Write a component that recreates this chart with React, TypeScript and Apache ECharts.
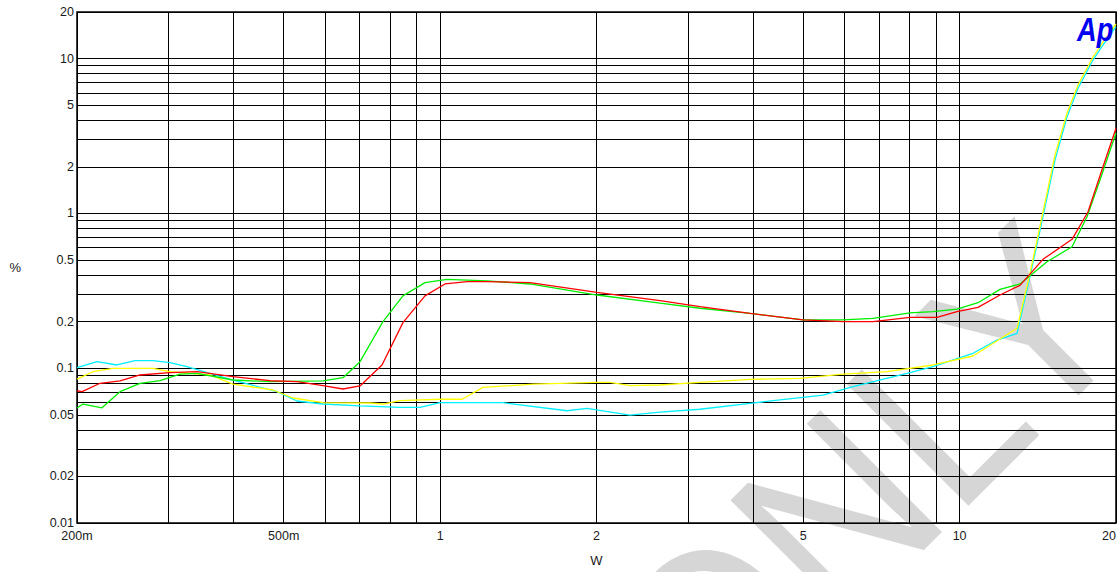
import React, { useEffect, useRef } from 'react';
import * as echarts from 'echarts';

// Grid lines (log decades) and tick labels
const xGridValues = [0.2, 0.3, 0.4, 0.5, 0.6, 0.7, 0.8, 0.9, 1, 2, 3, 4, 5, 6, 7, 8, 9, 10, 20];
const yGridValues = [
  0.01, 0.02, 0.03, 0.04, 0.05, 0.06, 0.07, 0.08, 0.09,
  0.1, 0.2, 0.3, 0.4, 0.5, 0.6, 0.7, 0.8, 0.9,
  1, 2, 3, 4, 5, 6, 7, 8, 9, 10, 20,
];
const xTickValues = [0.2, 0.5, 1, 2, 5, 10, 20];
const xTickLabels = ['200m', '500m', '1', '2', '5', '10', '20'];
const yTickValues = [0.01, 0.02, 0.05, 0.1, 0.2, 0.5, 1, 2, 5, 10, 20];
const yTickLabels = ['0.01', '0.02', '0.05', '0.1', '0.2', '0.5', '1', '2', '5', '10', '20'];

// Series: cyan
const cyanX = [0.2, 0.2185, 0.2388, 0.2586, 0.2801, 0.302, 0.3256, 0.3993, 0.4853, 0.5303, 0.5951, 0.7011, 0.837, 0.9148, 0.9993, 1.3214, 1.7552, 1.9176, 2.3206, 2.6506, 3.1636, 3.95, 5.458, 6.235, 7.918, 8.888, 10.61, 11.8, 12.9, 13.66, 14.47, 15.26, 16.1, 16.9, 18.06, 18.88, 20];
const cyanY = [0.1008, 0.1102, 0.1049, 0.1118, 0.1118, 0.1085, 0.1023, 0.0839, 0.0705, 0.0614, 0.0587, 0.0571, 0.0559, 0.0559, 0.0599, 0.0599, 0.0531, 0.055, 0.0498, 0.0521, 0.0543, 0.0593, 0.0671, 0.076, 0.0927, 0.1023, 0.1248, 0.152, 0.168, 0.39, 0.952, 2.21, 4.21, 6.43, 9.79, 12.24, 16.07];

// Series: yellow
const yellowX = [0.2, 0.2147, 0.2346, 0.2563, 0.2801, 0.302, 0.3606, 0.3993, 0.4769, 0.521, 0.5951, 0.7329, 0.7763, 0.837, 0.9993, 1.1021, 1.2092, 1.5094, 2.0046, 2.1234, 2.3206, 2.6506, 3.1636, 3.95, 4.93, 5.964, 7.248, 8.888, 10.61, 12.9, 13.66, 14.47, 15.26, 16.1, 16.9, 18.06, 18.88, 20];
const yellowY = [0.0851, 0.0949, 0.0998, 0.0998, 0.0998, 0.0949, 0.0904, 0.079, 0.0723, 0.0642, 0.0599, 0.0596, 0.0587, 0.0617, 0.063, 0.063, 0.0752, 0.0788, 0.0811, 0.0811, 0.0771, 0.0779, 0.0811, 0.0848, 0.086, 0.0917, 0.0949, 0.1049, 0.1199, 0.181, 0.41, 1.02, 2.38, 4.45, 6.75, 10.24, 12.8, 16.73];

// Series: green
const greenX = [0.2, 0.2054, 0.2234, 0.242, 0.2644, 0.2889, 0.3157, 0.3404, 0.3993, 0.4705, 0.5951, 0.6502, 0.7011, 0.7763, 0.8481, 0.9352, 1.0307, 1.2308, 1.4895, 2.0046, 2.6506, 3.1636, 3.95, 4.996, 5.964, 6.811, 8.025, 8.888, 9.884, 10.85, 11.96, 13.07, 14.73, 16.46, 17.59, 18.63, 20];
const greenY = [0.0553, 0.0587, 0.0555, 0.0705, 0.0799, 0.083, 0.0917, 0.0927, 0.0839, 0.0818, 0.0827, 0.0868, 0.1102, 0.1998, 0.293, 0.357, 0.375, 0.367, 0.35, 0.297, 0.263, 0.244, 0.226, 0.205, 0.205, 0.21, 0.228, 0.232, 0.241, 0.265, 0.323, 0.35, 0.487, 0.609, 0.952, 1.643, 3.31];

// Series: red
const redX = [0.2, 0.2045, 0.2215, 0.242, 0.2644, 0.302, 0.3404, 0.3993, 0.4705, 0.5303, 0.5951, 0.6502, 0.7011, 0.7729, 0.8481, 0.9352, 1.0217, 1.1267, 1.2308, 1.4895, 2.0046, 2.6506, 3.1636, 3.95, 4.996, 5.964, 6.811, 8.025, 9.047, 9.884, 10.85, 11.96, 13.07, 14.47, 16.46, 17.67, 18.88, 20];
const redY = [0.0715, 0.0705, 0.0799, 0.0827, 0.0904, 0.0935, 0.0949, 0.0881, 0.083, 0.0818, 0.0771, 0.0734, 0.0768, 0.1049, 0.197, 0.293, 0.35, 0.362, 0.362, 0.357, 0.309, 0.273, 0.25, 0.226, 0.205, 0.1998, 0.1998, 0.213, 0.213, 0.232, 0.247, 0.297, 0.343, 0.505, 0.68, 1.025, 2.0, 3.55];

const seriesDefs = [
  { name: 'Cyan', color: '#00f0ff', xs: cyanX, ys: cyanY },
  { name: 'Yellow', color: '#ffff00', xs: yellowX, ys: yellowY },
  { name: 'Green', color: '#00ee00', xs: greenX, ys: greenY },
  { name: 'Red', color: '#ff0000', xs: redX, ys: redY },
];

const FONT = 'Liberation Sans, Arial, sans-serif';
const labelStyle = { fontFamily: FONT, fontSize: 12.5, color: '#1a1a1a' };

export default function App() {
  const ref = useRef<HTMLDivElement>(null);

  useEffect(() => {
    if (!ref.current) return;
    const chart = echarts.init(ref.current, null, { renderer: 'svg' });

    const xLines = xGridValues.map((v) => {
      const i = xTickValues.indexOf(v);
      return {
        xAxis: v,
        label:
          i >= 0
            ? { show: true, formatter: xTickLabels[i], position: 'start', distance: 6, ...labelStyle, ...(v === 20 ? { align: 'right' } : {}) }
            : { show: false },
      };
    });
    const yLines = yGridValues.map((v) => {
      const i = yTickValues.indexOf(v);
      return {
        yAxis: v,
        label:
          i >= 0
            ? { show: true, formatter: yTickLabels[i], position: 'start', distance: 3, ...labelStyle }
            : { show: false },
      };
    });

    const option: any = {
      animation: false,
      grid: {
        left: 77,
        top: 12,
        width: 1039,
        height: 511,
        show: true,
        borderColor: '#000',
        borderWidth: 1.5,
        backgroundColor: 'transparent',
      },
      xAxis: {
        type: 'log',
        logBase: 10,
        min: 0.2,
        max: 20,
        name: 'W',
        nameLocation: 'middle',
        nameGap: 31,
        nameTextStyle: { ...labelStyle, fontSize: 13 },
        axisLine: { show: false },
        axisTick: { show: false },
        axisLabel: { show: false },
        splitLine: { show: false },
        minorSplitLine: { show: false },
      },
      yAxis: {
        type: 'log',
        logBase: 10,
        min: 0.01,
        max: 20,
        name: '%',
        nameLocation: 'middle',
        nameGap: 56,
        nameRotate: 0,
        nameTextStyle: { ...labelStyle, fontSize: 13 },
        axisLine: { show: false },
        axisTick: { show: false },
        axisLabel: { show: false },
        splitLine: { show: false },
        minorSplitLine: { show: false },
      },
      graphic: [
        {
          type: 'text',
          z: 1,
          x: 653,
          y: 699,
          rotation: Math.PI / 4,
          scaleX: 0.91,
          silent: true,
          style: {
            text: 'ONLY',
            fontFamily: FONT,
            fontWeight: 'normal',
            fontSize: 250,
            fill: 'rgba(128,128,128,0.32)',
            align: 'left',
            verticalAlign: 'middle',
          },
        },
        {
          type: 'text',
          z: 10,
          x: 1077,
          y: 12,
          scaleX: 0.8,
          silent: true,
          style: {
            text: 'Ap',
            fontFamily: FONT,
            fontWeight: 'bold',
            fontStyle: 'italic',
            fontSize: 34,
            fill: '#0000f0',
            align: 'left',
            verticalAlign: 'top',
          },
        },
      ],
      series: [
        {
          type: 'line',
          name: 'grid',
          data: [[0.2, 0.01]],
          symbol: 'none',
          showSymbol: false,
          lineStyle: { opacity: 0 },
          silent: true,
          z: 1,
          markLine: {
            silent: true,
            symbol: ['none', 'none'],
            animation: false,
            z: 1,
            lineStyle: { color: '#000', width: 1, type: 'solid' },
            emphasis: { disabled: true },
            data: [...xLines, ...yLines],
          },
        },
        ...seriesDefs.map((s) => ({
          type: 'line',
          name: s.name,
          data: s.xs.map((x, i) => [x, s.ys[i]]),
          symbol: 'none',
          showSymbol: false,
          smooth: false,
          z: 3,
          lineStyle: { color: s.color, width: 1.3 },
          itemStyle: { color: s.color },
        })),
      ],
    };

    chart.setOption(option);
    return () => chart.dispose();
  }, []);

  return (
    <div
      ref={ref}
      style={{ position: 'fixed', left: 0, top: 0, width: 1117, height: 572, background: '#fff' }}
    />
  );
}
